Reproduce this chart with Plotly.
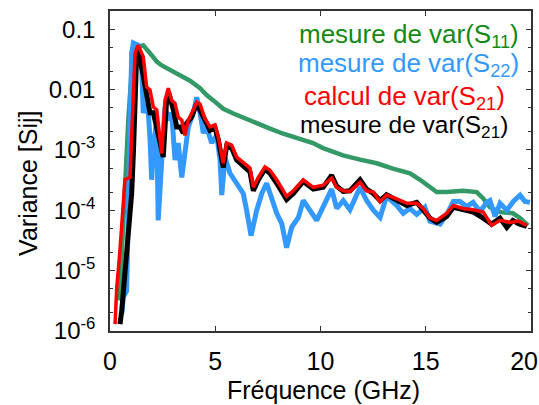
import plotly.graph_objects as go

# Frequencies (GHz) and variances
f_s11 = [0.43, 0.475, 0.56, 0.63, 0.71, 0.79, 0.87, 1.03, 1.11, 1.28, 1.58, 1.98, 2.22, 2.46, 3.01, 3.33,
         3.80, 4.28, 4.59, 4.91, 5.38, 5.86, 6.49, 6.97, 7.60, 8.23, 9.03, 9.64, 10.12, 11.07, 11.88, 12.67,
         13.44, 14.25, 14.73, 15.20, 15.52, 16.0, 16.77, 17.42, 17.72, 18.05, 18.53, 19.14, 19.48, 19.86]
v_s11 = [3.2e-6, 4.2e-6, 1.95e-5, 6.8e-5, 2.4e-4, 8.7e-4, 3.1e-3, 2.1e-2, 4.0e-2, 5.0e-2, 5.4e-2, 3.7e-2,
         2.9e-2, 2.5e-2, 1.95e-2, 1.7e-2, 1.4e-2, 1.05e-2, 8.1e-3, 6.6e-3, 4.8e-3, 4.0e-3, 3.3e-3, 2.75e-3,
         2.25e-3, 1.85e-3, 1.55e-3, 1.3e-3, 1.07e-3, 8.1e-4, 6.9e-4, 6.0e-4, 4.9e-4, 4.1e-4, 3.2e-4, 2.4e-4,
         2.0e-4, 2.0e-4, 2.1e-4, 2.0e-4, 1.58e-4, 1.12e-4, 9.3e-5, 8.9e-5, 7.4e-5, 5.6e-5]

f_s22 = [0.56, 0.63, 0.79, 0.87, 0.95, 1.03, 1.11, 1.34, 1.51, 1.58, 1.74, 1.82, 1.90, 1.98, 2.06, 2.22,
         2.29, 2.46, 2.61, 2.77, 2.93, 3.09, 3.24, 3.41, 3.56, 3.72, 3.96, 4.12, 4.28, 4.43, 4.59, 4.83,
         5.07, 5.23, 5.31, 5.46, 5.70, 6.02, 6.33, 6.49, 6.70, 6.97, 7.21, 7.44, 7.60, 7.92, 8.16, 8.39,
         8.63, 8.95, 9.18, 9.50, 9.82, 10.13, 10.53, 10.77, 11.08, 11.40, 11.88, 12.19, 12.51, 12.83, 13.14,
         13.62, 13.93, 14.25, 14.57, 14.96, 15.20, 15.68, 16.0, 16.31, 16.63, 16.94, 17.25, 17.58, 17.90,
         18.05, 18.29, 18.53, 18.85, 19.16, 19.48, 19.71, 19.95]
v_s22 = [1.95e-6, 3.6e-6, 4.6e-6, 6.8e-5, 8.7e-4, 4.0e-2, 5.9e-2, 5.4e-2, 2.1e-2, 4.1e-3, 5.9e-3, 4.1e-3,
         1.6e-3, 3.2e-4, 1.1e-3, 3.1e-3, 6.8e-5, 8.7e-4, 5.1e-3, 3.1e-3, 4.1e-3, 6.8e-4, 1.3e-3, 3.5e-4,
         8.7e-4, 2.4e-3, 4.1e-3, 7.4e-3, 4.1e-3, 1.9e-3, 2.4e-3, 1.3e-3, 1.74e-3, 6.8e-4, 1.78e-4, 7.6e-4,
         4.1e-4, 2.8e-4, 1.9e-4, 1.0e-4, 3.8e-5, 1.0e-4, 1.9e-4, 2.8e-4, 1.9e-4, 8.9e-5, 6.0e-5, 2.4e-5,
         5.2e-5, 7.6e-5, 1.45e-4, 1.0e-4, 6.8e-5, 1.15e-4, 2.24e-4, 1.07e-4, 1.45e-4, 1.02e-4, 2.4e-4,
         1.45e-4, 1.0e-4, 7.6e-5, 1.7e-4, 1.2e-4, 8.9e-5, 1.07e-4, 8.5e-5, 1.12e-4, 6.6e-5, 5.9e-5, 8.5e-5,
         1.4e-4, 1.4e-4, 1.15e-4, 1.35e-4, 9.5e-5, 1.35e-4, 1.45e-4, 7.9e-5, 1.3e-4, 1.0e-4, 1.4e-4,
         1.78e-4, 1.4e-4, 1.35e-4]

f_calc = [0.24, 0.32, 0.475, 0.63, 0.71, 0.95, 1.03, 1.11, 1.19, 1.34, 1.58, 1.74, 1.90, 2.06, 2.22, 2.33,
          2.46, 2.61, 2.77, 2.93, 3.09, 3.24, 3.41, 3.56, 3.72, 3.96, 4.12, 4.28, 4.51, 4.75, 4.99, 5.15,
          5.38, 5.54, 5.78, 6.02, 6.33, 6.65, 6.81, 7.05, 7.36, 7.60, 7.92, 8.39, 8.71, 9.18, 9.66, 10.13,
          10.53, 10.77, 11.08, 11.40, 11.88, 12.19, 12.51, 12.83, 13.14, 13.62, 14.10, 14.57, 14.88, 15.20,
          15.52, 16.0, 16.31, 16.78, 17.26, 17.73, 18.13, 18.53, 19.00, 19.40, 19.80]
v_calc = [1.3e-6, 5.2e-6, 2.2e-5, 1.12e-4, 3.2e-4, 3.5e-4, 1.6e-3, 1.1e-2, 4.0e-2, 5.4e-2, 3.5e-2, 1.1e-2,
          9.8e-3, 5.1e-3, 4.6e-3, 2.1e-3, 8.7e-4, 6.6e-3, 1.05e-2, 6.6e-3, 5.9e-3, 3.5e-3, 3.1e-3, 1.74e-3,
          3.1e-3, 4.6e-3, 6.2e-3, 5.7e-3, 3.3e-3, 2.4e-3, 2.6e-3, 1.6e-3, 6.0e-4, 1.3e-3, 1.2e-3, 7.6e-4,
          6.2e-4, 5.0e-4, 2.4e-4, 3.5e-4, 5.2e-4, 4.6e-4, 3.2e-4, 1.7e-4, 2.1e-4, 3.2e-4, 2.4e-4, 2.6e-4,
          3.4e-4, 2.4e-4, 2.1e-4, 2.05e-4, 2.9e-4, 2.1e-4, 2.0e-4, 1.38e-4, 1.78e-4, 1.55e-4, 1.3e-4, 1.3e-4,
          1.07e-4, 7.4e-5, 6.8e-5, 8.9e-5, 1.2e-4, 1.07e-4, 1.02e-4, 9.3e-5, 5.6e-5, 6.8e-5, 6.3e-5, 6.6e-5,
          5.6e-5]

f_s21 = [0.475, 0.56, 0.79, 1.03, 1.11, 1.19, 1.27, 1.34, 1.51, 1.66, 1.82, 1.90, 2.06, 2.22, 2.38, 2.53,
         2.69, 2.85, 3.01, 3.17, 3.33, 3.48, 3.64, 3.88, 4.12, 4.28, 4.51, 4.75, 4.99, 5.15, 5.38, 5.54,
         5.78, 6.02, 6.33, 6.65, 6.81, 7.05, 7.36, 7.60, 7.92, 8.39, 8.71, 9.18, 9.66, 10.13, 10.53, 10.77,
         11.08, 11.40, 11.88, 12.19, 12.51, 12.83, 13.14, 13.62, 14.10, 14.57, 14.88, 15.20, 15.52, 16.0,
         16.31, 16.78, 17.26, 17.73, 18.13, 18.53, 18.85, 19.14, 19.40, 19.80]
v_s21 = [1.3e-6, 2.2e-6, 1.95e-5, 1.9e-4, 8.7e-4, 1.1e-2, 4.0e-2, 4.8e-2, 2.1e-2, 1.1e-2, 5.9e-3, 4.1e-3,
         4.1e-3, 2.4e-3, 1.3e-3, 7.6e-4, 6.6e-3, 7.4e-3, 4.6e-3, 2.4e-3, 2.4e-3, 1.9e-3, 2.75e-3, 3.5e-3,
         5.9e-3, 4.6e-3, 3.1e-3, 2.1e-3, 2.3e-3, 1.45e-3, 5.1e-4, 1.15e-3, 1.07e-3, 6.8e-4, 5.4e-4, 4.3e-4,
         2.1e-4, 3.2e-4, 4.8e-4, 4.1e-4, 2.8e-4, 1.5e-4, 1.9e-4, 3.0e-4, 2.24e-4, 2.4e-4, 3.8e-4, 2.5e-4,
         2.05e-4, 2.1e-4, 3.2e-4, 2.24e-4, 1.9e-4, 1.45e-4, 1.8e-4, 1.5e-4, 1.2e-4, 1.35e-4, 1.02e-4, 7.4e-5,
         6.3e-5, 7.9e-5, 1.12e-4, 1.0e-4, 9.3e-5, 7.4e-5, 5.9e-5, 7.4e-5, 5.2e-5, 6.8e-5, 6.0e-5, 5.4e-5]

x_ticks = [0, 5, 10, 15, 20]
x_ticktext = ["0", "5", "10", "15", "20\u2007"]
y_ticks = [1e-6, 1e-5, 1e-4, 1e-3, 1e-2, 1e-1]
y_ticktext = ["10<sup>-6</sup>", "10<sup>-5</sup>", "10<sup>-4</sup>", "10<sup>-3</sup>", "0.01", "0.1"]

legend_labels = ["mesure de var(S<sub>11</sub>)", "mesure de var(S<sub>22</sub>)",
                 "calcul de var(S<sub>21</sub>)", "mesure de var(S<sub>21</sub>)"]
x_title = "Fréquence (GHz)"
y_title = "Variance [Sij]"

FONT = "Arial, Liberation Sans, sans-serif"

fig = go.Figure()
fig.add_trace(go.Scatter(x=f_s11, y=v_s11, mode="lines", line=dict(color="#339966", width=4.5)))
fig.add_trace(go.Scatter(x=f_s22, y=v_s22, mode="lines", line=dict(color="#3399ff", width=5)))
fig.add_trace(go.Scatter(x=f_s21, y=v_s21, mode="lines", line=dict(color="#000000", width=5)))
fig.add_trace(go.Scatter(x=f_calc, y=v_calc, mode="lines", line=dict(color="#ff0000", width=3.5)))

leg_colors = ["#138a13", "#3399ff", "#ff0000", "#000000"]
leg_x = [0.976, 0.976, 0.943, 0.950]
leg_y = [0.922, 0.834, 0.731, 0.640]
leg_sizes = [26, 26, 26, 24.5]
for lab, c, lx, ly, s in zip(legend_labels, leg_colors, leg_x, leg_y, leg_sizes):
    fig.add_annotation(text=lab, x=lx, y=ly, xref="paper", yref="paper", xanchor="right",
                       yanchor="middle", showarrow=False, font=dict(color=c, size=s, family=FONT))

# axis titles
fig.add_annotation(text=x_title, x=0.508, y=-0.184, xref="paper", yref="paper", xanchor="center",
                   yanchor="middle", showarrow=False, font=dict(size=25, family=FONT, color="black"))
fig.add_annotation(text=y_title, x=-0.195, y=0.4625, xref="paper", yref="paper", xanchor="center",
                   yanchor="middle", textangle=-90, showarrow=False,
                   font=dict(size=25, family=FONT, color="black"))

fig.update_layout(
    width=539, height=405,
    margin=dict(l=110, r=8, t=11, b=74),
    paper_bgcolor="white", plot_bgcolor="white",
    showlegend=False,
    font=dict(family=FONT, color="black"),
)
fig.update_xaxes(
    range=[0, 20], tickvals=x_ticks, ticktext=x_ticktext, ticks="inside", ticklen=5, tickcolor="#333",
    showline=True, linecolor="#333", linewidth=1.5, mirror="ticks", showgrid=False, zeroline=False,
    tickfont=dict(size=25), automargin=False, ticklabeloverflow="allow", ticklabelstandoff=7,
)
fig.update_yaxes(
    type="log", range=[-6, -0.7], tickvals=y_ticks, ticktext=y_ticktext, ticks="inside", ticklen=5,
    tickcolor="#333", showline=True, linecolor="#333", linewidth=1.5, mirror="ticks", showgrid=False,
    zeroline=False, tickfont=dict(size=24), automargin=False, ticklabelstandoff=8,
    minor=dict(ticks="inside", ticklen=3, tickcolor="#333", showgrid=False),
)

# remove the default page margin so the 539x405 figure fills the window exactly
fig.write_html("out.html", config={"displayModeBar": False},
               post_script="document.body.style.margin='0';document.body.style.overflow='hidden';")
